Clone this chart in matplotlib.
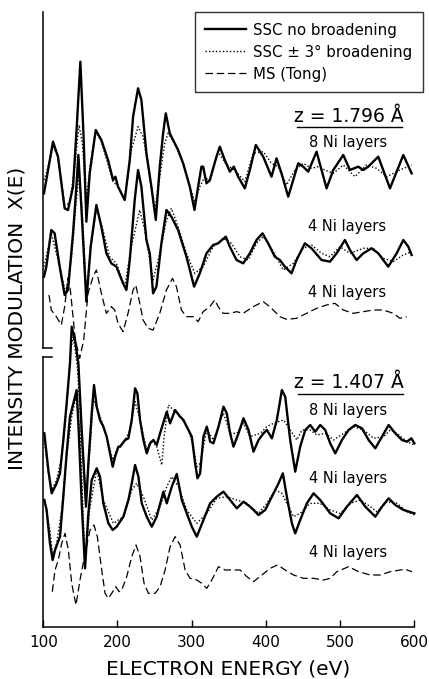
import matplotlib
matplotlib.use("Agg")
import matplotlib.pyplot as plt
from matplotlib.lines import Line2D

plt.rcParams['font.family'] = ['DejaVu Sans']

# ---------------- data (energy in eV, modulation in arbitrary units) ----------------
# z = 1.796 A, 8 Ni layers, SSC no broadening
e_a8 = [100.9, 104.1, 113.1, 119.8, 128.8, 133.3, 140.1, 144.6, 150.0, 154.5, 158.1, 162.6,
        170.7, 178.3, 187.3, 194.1, 197.2, 200.8, 209.8, 216.6, 221.1, 227.8, 232.3, 239.1,
        245.8, 251.7, 257.1, 261.6, 265.2, 270.6, 281.8, 288.6, 297.6, 303.9, 308.8, 313.3,
        315.6, 320.1, 324.6, 333.6, 338.1, 344.8, 351.6, 357.0, 362.8, 371.8, 378.6, 386.7,
        396.6, 407.8, 414.6, 421.3, 430.3, 437.1, 443.8, 450.6, 457.3, 468.6, 475.3, 482.1,
        491.1, 504.6, 513.6, 524.8, 531.6, 538.3, 551.8, 567.6, 585.6, 596.8]
a8_solid = [-8.0, -4.0, 7.5, 3.0, -12.5, -13.0, -6.0, 10.0, 31.5, 8.0, -16.5, -2.0,
            11.0, 8.0, 2.0, -4.0, -3.0, -6.0, -10.0, 2.0, 15.0, 23.5, 20.0, 4.0,
            -6.0, -16.0, 0.0, 10.0, 16.0, 10.0, 5.0, 1.0, -6.0, -13.0, -6.0, 0.0,
            0.0, -5.0, -4.0, 3.0, 6.0, 2.0, -1.5, 0.0, -3.0, -6.5, -1.0, 6.5,
            3.0, -3.0, 2.5, -2.0, -9.0, -4.0, 1.0, 0.0, -1.5, 4.5, -1.0, -6.5,
            -1.0, 3.5, -1.0, 0.0, -1.0, 0.0, 3.0, -6.5, 3.5, -2.0]
# z = 1.796 A, 8 Ni layers, SSC +-3 deg broadening
e_a8d = [100.9, 104.1, 113.1, 119.8, 128.8, 135.6, 142.3, 148.2, 152.7, 158.1, 163.5, 170.7,
         178.3, 189.6, 194.1, 200.8, 209.8, 218.8, 227.8, 234.6, 241.3, 250.3, 257.1, 263.8,
         268.3, 279.6, 288.6, 297.6, 304.3, 311.1, 317.8, 324.6, 335.8, 347.1, 358.3, 371.8,
         383.1, 396.6, 407.8, 416.8, 428.1, 439.3, 450.6, 461.8, 470.8, 479.8, 491.1, 504.6,
         520.3, 536.1, 549.6, 563.1, 581.1, 596.8]
a8_dot = [-4.0, -2.0, 6.0, 3.0, -11.5, -11.0, 0.0, 12.5, 7.0, -10.0, 1.0, 10.5,
          7.5, -1.0, -4.5, -6.0, -10.0, 5.0, 12.0, 9.0, 0.0, -13.0, -3.0, 7.0,
          10.0, 6.0, 1.0, -6.0, -10.5, -6.0, -3.0, -4.5, 4.5, 0.5, -1.0, -4.5,
          4.0, 4.5, 1.0, 0.0, -5.5, -1.0, 1.0, -0.5, 0.0, -1.0, -2.0, 0.5,
          -3.0, 0.5, -0.5, -3.0, -1.0, 0.5]
# z = 1.796 A, 4 Ni layers, SSC no broadening
e_a4 = [100.9, 104.1, 110.8, 115.3, 122.1, 128.8, 133.3, 140.1, 144.6, 147.3, 151.3, 158.1,
        163.9, 171.6, 178.3, 185.1, 191.8, 198.6, 207.6, 212.1, 216.6, 223.3, 227.8, 232.3,
        239.1, 243.6, 248.1, 252.6, 259.3, 266.1, 272.8, 281.8, 293.1, 303.4, 311.1, 320.1,
        329.1, 335.8, 346.2, 351.6, 360.6, 369.6, 378.6, 387.6, 395.7, 403.3, 412.3, 419.1,
        425.8, 434.8, 441.6, 452.8, 461.8, 475.3, 486.6, 495.6, 506.8, 513.6, 522.6, 531.6,
        542.8, 551.8, 565.3, 576.6, 585.6, 592.3, 596.8]
a4_solid = [-7.0, -4.0, 7.0, 6.0, -4.0, -12.5, -11.0, 6.0, 20.0, 29.5, 14.0, -14.5,
            2.0, 14.5, 8.0, 0.0, -3.0, -4.0, -9.0, -11.0, -2.0, 16.0, 25.0, 20.0,
            4.0, 0.0, -12.0, -10.0, 3.0, 13.0, 11.0, 7.0, -1.0, -10.0, -6.0, 0.0,
            2.5, 3.0, 5.0, 2.0, -2.0, -3.0, 0.0, 4.0, 6.0, 3.0, -1.0, -2.0,
            -4.0, -6.0, -2.0, 3.0, 1.5, -2.0, -2.5, 0.0, 4.0, 1.0, -2.0, 0.0,
            1.5, 0.0, -4.0, 0.0, 4.0, 2.0, -0.5]
# z = 1.796 A, 4 Ni layers, SSC +-3 deg broadening
e_a4d = [100.9, 110.8, 122.1, 130.2, 137.8, 144.6, 148.2, 152.7, 158.1, 163.9, 171.6, 180.4,
         189.4, 198.6, 209.8, 218.8, 230.0, 236.8, 248.1, 257.1, 266.1, 272.8, 281.8, 293.1,
         304.3, 315.6, 329.1, 342.6, 353.8, 365.1, 376.3, 387.6, 396.6, 407.8, 423.6, 437.1,
         450.6, 461.8, 475.3, 486.6, 500.1, 513.6, 531.6, 545.1, 558.6, 572.1, 585.6, 596.8]
a4_dot = [-4.0, 6.0, -4.0, -12.0, -2.0, 16.0, 24.0, 12.0, -12.0, 2.0, 13.5, 7.0,
          -1.0, -3.0, -10.0, 2.0, 13.0, 7.0, -8.0, 0.0, 10.0, 13.5, 8.0, 0.0,
          -6.0, -4.0, 2.0, 4.5, 3.0, -1.0, -2.0, 3.0, 5.0, 1.5, -5.0, -3.0,
          1.5, 2.5, 0.0, -1.0, 2.0, 0.0, 1.5, 1.5, -1.5, -2.5, -0.5, 0.5]
# z = 1.796 A, 4 Ni layers, MS (Tong)
e_ams = [107.7, 110.8, 117.6, 124.3, 128.8, 133.3, 136.5, 143.2, 149.1, 154.5, 160.3, 167.1,
         171.6, 178.3, 185.1, 191.8, 196.3, 200.8, 207.6, 214.3, 221.1, 224.7, 229.2, 234.6,
         241.3, 248.1, 257.1, 266.1, 274.2, 279.6, 286.3, 293.1, 302.1, 308.8, 315.6, 324.6,
         331.3, 335.8, 342.6, 351.6, 360.6, 369.6, 383.1, 396.6, 405.6, 419.1, 428.1, 441.6,
         455.1, 468.6, 482.1, 493.3, 504.6, 518.1, 531.6, 545.1, 558.6, 572.1, 581.1, 590.1]
a_ms = [4.5, 0.0, -2.0, -4.5, 1.0, 9.5, 6.0, -9.0, -14.5, -9.0, 5.0, 10.0,
        12.0, 5.0, -1.0, 1.0, 0.0, -4.0, -6.5, -1.0, 6.0, 7.5, 3.0, -3.0,
        -5.5, -6.0, -1.0, 6.0, 9.5, 7.0, 0.0, -2.0, -2.0, -3.5, -0.5, 1.0,
        3.0, 1.0, -1.0, -1.0, -0.5, -1.0, 1.0, 2.5, 1.0, -2.0, -2.8, -2.5,
        -1.0, 0.5, 1.5, 2.0, 0.0, -1.0, -0.5, 0.0, 0.0, -1.0, -2.5, -2.0]

# z = 1.407 A, 8 Ni layers, SSC no broadening
e_b8 = [101.4, 106.8, 111.3, 118.0, 122.5, 127.0, 131.5, 136.0, 138.3, 142.8, 147.3, 151.8,
        157.6, 160.8, 165.3, 168.4, 172.0, 176.5, 181.0, 185.5, 190.0, 193.6, 196.8, 201.3,
        203.5, 210.3, 214.8, 219.3, 223.8, 226.9, 230.5, 235.0, 239.5, 244.0, 248.5, 253.0,
        257.5, 266.5, 271.0, 277.8, 284.5, 289.0, 293.5, 300.3, 304.8, 307.9, 311.5, 316.0,
        320.5, 322.8, 325.0, 329.5, 336.3, 343.0, 347.5, 352.0, 356.5, 363.3, 370.0, 376.8,
        383.5, 390.3, 397.0, 401.5, 408.3, 415.0, 421.8, 426.3, 433.0, 439.8, 446.5, 453.3,
        460.0, 466.8, 473.5, 480.3, 487.0, 493.8, 502.8, 511.8, 520.8, 529.8, 538.8, 547.8,
        556.8, 565.8, 574.8, 583.8, 590.5, 596.4, 600.5]
b8_solid = [2.0, -9.0, -16.0, -13.0, -10.0, 0.0, 11.0, 23.0, 34.0, 30.0, 23.0, 3.0,
            -20.0, -7.0, 8.0, 16.5, 10.0, 6.0, 4.0, 1.0, -4.0, -8.0, -5.0, -2.0,
            -2.0, 0.0, 0.5, 6.0, 15.5, 14.0, 6.0, 0.0, -4.0, -1.0, 0.0, -1.5,
            2.0, 8.5, 5.0, 9.0, 7.0, 6.0, 4.0, 1.0, -7.0, -11.5, -10.0, 1.0,
            4.0, 2.0, -0.5, -1.0, 4.0, 10.0, 8.0, 2.0, -2.0, 2.0, 6.5, 3.0,
            -3.5, 0.0, 2.0, 3.0, 0.5, 6.0, 15.0, 13.0, 0.0, -9.5, -2.0, 3.0,
            4.5, 2.5, 4.5, 3.0, -1.0, -4.0, 0.0, 3.0, 4.5, 3.5, 0.0, -2.5,
            1.0, 4.5, 2.0, 0.0, -0.5, 0.5, -1.0]
# z = 1.407 A, 8 Ni layers, SSC +-3 deg broadening
e_b8d = [101.4, 106.8, 111.3, 118.0, 124.8, 131.5, 136.9, 140.5, 145.9, 151.8, 157.6, 162.1,
         167.5, 172.9, 181.0, 187.8, 193.6, 199.0, 208.0, 217.0, 223.8, 230.5, 239.5, 246.3,
         253.0, 259.8, 262.9, 268.8, 277.8, 286.8, 295.8, 302.5, 307.0, 311.5, 320.5, 329.5,
         343.0, 352.0, 361.0, 370.0, 379.0, 392.5, 401.5, 410.5, 424.0, 433.0, 442.0, 448.8,
         460.0, 469.0, 480.3, 491.5, 505.0, 518.5, 532.0, 545.5, 559.0, 568.0, 577.0, 590.5,
         600.5]
b8_dot = [0.0, -10.0, -15.0, -12.0, -5.0, 10.0, 27.0, 31.0, 22.0, 1.0, -17.0, -5.0,
          12.0, 9.5, 4.0, -1.0, -6.0, -3.0, -1.0, 3.0, 11.5, 6.0, -3.0, 0.0,
          -2.0, -7.5, 1.0, 10.5, 8.5, 6.5, 3.0, -2.0, -8.0, -7.0, 3.0, 0.0,
          8.0, 2.0, 2.0, 5.0, 1.0, 2.0, 4.0, 5.0, 6.0, 3.0, 0.0, 3.0,
          3.0, 1.5, 2.0, 0.0, 2.0, 4.0, 3.0, 0.5, 1.0, 3.0, 2.0, -0.5,
          -1.5]
# z = 1.407 A, 4 Ni layers, SSC no broadening
e_b4 = [101.4, 104.5, 109.0, 112.6, 115.8, 122.5, 127.0, 131.5, 136.0, 140.5, 145.0, 147.7,
        151.8, 156.3, 160.8, 165.3, 172.0, 176.5, 181.0, 187.8, 193.6, 199.0, 208.0, 214.8,
        219.3, 223.8, 228.3, 232.8, 239.5, 246.3, 253.0, 255.3, 262.0, 266.5, 273.3, 280.0,
        286.8, 293.5, 300.3, 307.0, 316.0, 325.0, 334.0, 343.0, 352.0, 361.0, 370.0, 379.0,
        390.3, 399.3, 408.3, 417.3, 423.1, 428.5, 435.3, 439.8, 446.5, 455.5, 464.5, 473.5,
        487.0, 498.3, 509.5, 523.0, 534.3, 547.8, 556.8, 565.8, 574.8, 586.0, 600.5]
b4_solid = [2.0, -1.0, -11.0, -16.0, -13.0, -9.0, 3.0, 16.0, 27.0, 31.0, 35.0, 23.0,
            1.0, -18.5, -2.0, 8.0, 11.5, 9.0, 1.0, -5.0, -7.0, -6.0, -3.0, 2.0,
            7.0, 12.5, 9.0, 1.0, -3.0, -6.0, -3.0, -1.0, 4.5, 1.0, 6.0, 9.8,
            2.0, -2.0, -6.0, -9.0, -4.0, 1.0, 3.0, 4.5, 2.0, -0.5, 1.5, 0.0,
            -2.5, -1.0, 3.0, 7.0, 10.0, 3.0, -5.0, -8.0, -4.0, 1.0, 4.0, 2.0,
            -2.0, -3.5, 0.0, 3.5, 0.0, -3.0, 0.0, 2.5, 0.5, -1.0, -2.0]
# z = 1.407 A, 4 Ni layers, SSC +-3 deg broadening
e_b4d = [101.4, 109.0, 112.6, 118.0, 124.8, 131.5, 138.3, 144.1, 149.5, 156.3, 162.3, 172.0,
         181.0, 194.5, 208.0, 219.3, 226.0, 235.0, 246.3, 257.5, 266.5, 273.3, 282.3, 293.5,
         307.0, 320.5, 334.0, 347.5, 361.0, 374.5, 390.3, 401.5, 412.8, 421.8, 428.5, 437.5,
         446.5, 460.0, 473.5, 487.0, 500.5, 514.0, 527.5, 541.0, 550.0, 563.5, 577.0, 590.5,
         600.5]
b4_dot = [2.0, -7.0, -15.0, -11.0, -1.0, 15.0, 27.0, 33.0, 23.0, -17.0, -1.0, 11.0,
          2.0, -5.0, -3.0, 5.0, 7.0, 3.0, -4.0, 0.0, 6.0, 9.0, 6.0, -1.0,
          -5.0, -2.0, 2.5, 3.0, 2.0, 1.0, -2.0, 1.0, 5.0, 4.0, 1.0, -3.0,
          -2.0, 1.0, 1.0, -1.0, -2.0, 1.0, 2.0, 0.0, -1.5, 1.5, 1.0, -1.5,
          -2.5]
# z = 1.407 A, 4 Ni layers, MS (Tong)
e_bms = [112.2, 115.8, 120.3, 124.8, 129.3, 133.8, 138.3, 144.1, 149.5, 156.3, 163.0, 168.4,
         172.9, 178.8, 183.3, 187.8, 192.3, 197.7, 202.2, 205.8, 212.5, 219.3, 225.1, 230.5,
         235.9, 241.8, 250.8, 257.5, 264.3, 271.0, 277.8, 284.5, 291.3, 298.0, 307.0, 313.8,
         320.5, 327.3, 336.3, 345.3, 354.3, 365.5, 374.5, 383.5, 394.8, 406.0, 415.9, 426.3,
         437.5, 451.0, 464.5, 478.0, 487.0, 496.0, 511.8, 525.3, 541.0, 554.5, 568.0, 581.5,
         588.3, 597.3]
b_ms = [-4.5, 2.0, 5.0, 10.0, 13.0, 8.0, -2.0, -8.5, -1.0, 7.0, 14.0, 15.5,
        12.0, 2.0, -5.0, -6.5, -5.0, -3.0, -4.5, -4.0, 0.0, 6.0, 9.5, 6.0,
        -2.0, -5.0, -5.0, -3.0, 2.0, 9.0, 12.0, 9.5, 2.0, -0.5, -1.0, -2.0,
        -3.5, -1.0, 3.0, 2.0, 2.0, 2.0, 0.0, -1.5, 0.5, 2.5, 3.5, 2.0,
        0.5, -0.5, -0.5, -1.0, -0.5, 1.5, 3.0, 1.5, 0.5, 0.5, 1.5, 2.0,
        2.2, 1.5]

x_ticks = [100, 200, 300, 400, 500, 600]
legend_labels = ["SSC no broadening", "SSC \u00b1 3\u00b0 broadening", "MS (Tong)"]
panel_titles = ["z = 1.796 \u00c5", "z = 1.407 \u00c5"]
curve_labels = ["8 Ni layers", "4 Ni layers", "4 Ni layers"]

# vertical offsets of the stacked curves (layout)
off_a8, off_a4, off_ams = 138.1, 112.1, 95.1
off_b8, off_b4, off_bms = 56.1, 36.1, 15.1

W, H = 429, 679
fig = plt.figure(figsize=(W / 100, H / 100), dpi=100)
ax = fig.add_axes([43.3 / W, 1 - 627 / H, (414 - 43.3) / W, (627 - 12) / H])
ax.set_xlim(100, 600)
ax.set_ylim(0, 184.5)

solid_kw = dict(color='black', lw=1.7, solid_joinstyle='round', clip_on=False)
dot_kw = dict(color='black', lw=1.0, linestyle=(0, (1, 1.5)), clip_on=False)
dash_kw = dict(color='black', lw=0.9, linestyle=(0, (6, 3)), clip_on=False)

def shift(vals, off):
    return [v + off for v in vals]

h1, = ax.plot(e_a8, shift(a8_solid, off_a8), label=legend_labels[0], **solid_kw)
h2, = ax.plot(e_a8d, shift(a8_dot, off_a8), label=legend_labels[1], **dot_kw)
ax.plot(e_a4, shift(a4_solid, off_a4), **solid_kw)
ax.plot(e_a4d, shift(a4_dot, off_a4), **dot_kw)
h3, = ax.plot(e_ams, shift(a_ms, off_ams), label=legend_labels[2], **dash_kw)

ax.plot(e_b8, shift(b8_solid, off_b8), **solid_kw)
ax.plot(e_b8d, shift(b8_dot, off_b8), **dot_kw)
ax.plot(e_b4, shift(b4_solid, off_b4), **solid_kw)
ax.plot(e_b4d, shift(b4_dot, off_b4), **dot_kw)
ax.plot(e_bms, shift(b_ms, off_bms), **dash_kw)

# spines
for s in ['top', 'right', 'left']:
    ax.spines[s].set_visible(False)
ax.spines['bottom'].set_linewidth(1.1)
# broken left axis
trans = ax.transAxes
brk_hi = (627 - 348) / 615
brk_lo = (627 - 357) / 615
stub = 9 / 370.7
ax.add_line(Line2D([0, 0], [brk_hi, 1.0], transform=trans, color='black', lw=1.1, clip_on=False))
ax.add_line(Line2D([0, stub], [brk_hi, brk_hi], transform=trans, color='black', lw=1.1, clip_on=False))
ax.add_line(Line2D([0, 0], [0, brk_lo], transform=trans, color='black', lw=1.1, clip_on=False))
ax.add_line(Line2D([0, stub], [brk_lo, brk_lo], transform=trans, color='black', lw=1.1, clip_on=False))

ax.set_xticks(x_ticks)
ax.set_xticklabels([str(t) for t in x_ticks])
ax.tick_params(axis='x', direction='in', length=5, width=1.0, pad=6, labelsize=11)
ax.set_yticks([])

ax.set_xlabel("ELECTRON ENERGY (eV)", fontsize=14.5)
ax.xaxis.set_label_coords(0.498, -0.053)
ax.set_ylabel("INTENSITY MODULATION  X(E)", fontsize=14.5)
ax.yaxis.set_label_coords(-0.045, (627 - 318) / 615)

leg = ax.legend(handles=[h1, h2, h3], loc='upper right',
                bbox_to_anchor=(423 / W, 1 - 12 / H), bbox_transform=fig.transFigure,
                fontsize=10.8, frameon=True, fancybox=False, handlelength=2.7,
                handletextpad=0.5, borderpad=0.7, labelspacing=0.47, borderaxespad=0)
leg.get_frame().set_edgecolor('black')
leg.get_frame().set_linewidth(1.0)

def ftext(x, y, s, **kw):
    fig.text(x / W, 1 - y / H, s, ha='center', va='center', **kw)

# panel annotations
ftext(349, 117, panel_titles[0], fontsize=13.5)
fig.add_artist(Line2D([297 / W, 402 / W], [1 - 127 / H, 1 - 127 / H], color='black', lw=1.0))
ftext(348, 142, curve_labels[0], fontsize=10.5)
ftext(347, 227, curve_labels[1], fontsize=10.5)
ftext(347, 292, curve_labels[2], fontsize=10.5)

ftext(349, 382, panel_titles[1], fontsize=13.5)
fig.add_artist(Line2D([298 / W, 403 / W], [1 - 394 / H, 1 - 394 / H], color='black', lw=1.0))
ftext(348, 411, curve_labels[0], fontsize=10.5)
ftext(348, 478, curve_labels[1], fontsize=10.5)
ftext(348, 552, curve_labels[2], fontsize=10.5)

fig.savefig("out.png", dpi=100)
